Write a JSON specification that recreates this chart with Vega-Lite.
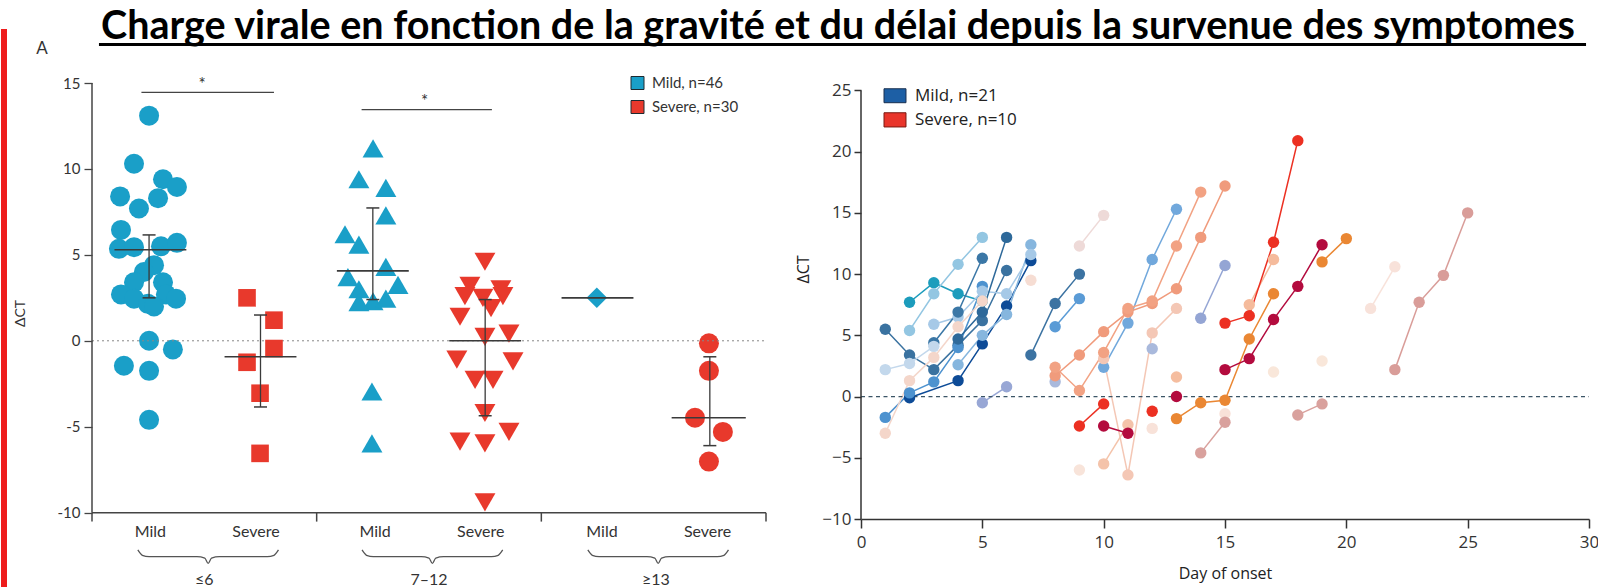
{
"$schema":"https://vega.github.io/schema/vega-lite/v6.json",
"background":"white",
"padding":{"left":0,"top":7,"right":0,"bottom":0},
"bounds":"flush",
"spacing":95,
"resolve":{"scale":{"color":"independent"},"legend":{"color":"independent"}},
"config":{"view":{"stroke":null},"axis":{"grid":false},"locale":{"number":{"decimal":".","thousands":",","grouping":[3],"currency":["$",""],"minus":"-"}}},
"datasets":{
"pts":[
{"g":"≤6","s":"Mild","p":0.254,"v":13.1},{"g":"≤6","s":"Mild","p":0.187,"v":10.3},{"g":"≤6","s":"Mild","p":0.316,"v":9.4},{"g":"≤6","s":"Mild","p":0.378,"v":8.95},{"g":"≤6","s":"Mild","p":0.125,"v":8.4},{"g":"≤6","s":"Mild","p":0.294,"v":8.3},{"g":"≤6","s":"Mild","p":0.209,"v":7.7},{"g":"≤6","s":"Mild","p":0.129,"v":6.45},{"g":"≤6","s":"Mild","p":0.120,"v":5.35},{"g":"≤6","s":"Mild","p":0.187,"v":5.45},{"g":"≤6","s":"Mild","p":0.307,"v":5.5},{"g":"≤6","s":"Mild","p":0.378,"v":5.7},{"g":"≤6","s":"Mild","p":0.276,"v":4.4},{"g":"≤6","s":"Mild","p":0.231,"v":4.0},{"g":"≤6","s":"Mild","p":0.187,"v":3.4},{"g":"≤6","s":"Mild","p":0.316,"v":3.4},{"g":"≤6","s":"Mild","p":0.129,"v":2.7},{"g":"≤6","s":"Mild","p":0.187,"v":2.45},{"g":"≤6","s":"Mild","p":0.249,"v":2.15},{"g":"≤6","s":"Mild","p":0.329,"v":2.7},{"g":"≤6","s":"Mild","p":0.374,"v":2.45},{"g":"≤6","s":"Mild","p":0.276,"v":2.0},{"g":"≤6","s":"Mild","p":0.254,"v":0.0},{"g":"≤6","s":"Mild","p":0.360,"v":-0.5},{"g":"≤6","s":"Mild","p":0.142,"v":-1.45},{"g":"≤6","s":"Mild","p":0.254,"v":-1.75},{"g":"≤6","s":"Mild","p":0.254,"v":-4.6},
{"g":"≤6","s":"Severe","p":0.690,"v":2.5},{"g":"≤6","s":"Severe","p":0.810,"v":1.2},{"g":"≤6","s":"Severe","p":0.810,"v":-0.45},{"g":"≤6","s":"Severe","p":0.690,"v":-1.25},{"g":"≤6","s":"Severe","p":0.748,"v":-3.05},{"g":"≤6","s":"Severe","p":0.748,"v":-6.55},
{"g":"7–12","s":"Mild","p":1.251,"v":11.2},{"g":"7–12","s":"Mild","p":1.188,"v":9.4},{"g":"7–12","s":"Mild","p":1.308,"v":8.9},{"g":"7–12","s":"Mild","p":1.308,"v":7.3},{"g":"7–12","s":"Mild","p":1.126,"v":6.2},{"g":"7–12","s":"Mild","p":1.188,"v":5.6},{"g":"7–12","s":"Mild","p":1.308,"v":4.3},{"g":"7–12","s":"Mild","p":1.139,"v":3.7},{"g":"7–12","s":"Mild","p":1.188,"v":3.0},{"g":"7–12","s":"Mild","p":1.362,"v":3.25},{"g":"7–12","s":"Mild","p":1.251,"v":2.3},{"g":"7–12","s":"Mild","p":1.308,"v":2.45},{"g":"7–12","s":"Mild","p":1.188,"v":2.25},{"g":"7–12","s":"Mild","p":1.246,"v":-2.95},{"g":"7–12","s":"Mild","p":1.246,"v":-5.97},
{"g":"7–12","s":"Severe","p":1.749,"v":4.6},{"g":"7–12","s":"Severe","p":1.682,"v":3.2},{"g":"7–12","s":"Severe","p":1.820,"v":3.0},{"g":"7–12","s":"Severe","p":1.660,"v":2.6},{"g":"7–12","s":"Severe","p":1.740,"v":2.5},{"g":"7–12","s":"Severe","p":1.829,"v":2.6},{"g":"7–12","s":"Severe","p":1.776,"v":1.9},{"g":"7–12","s":"Severe","p":1.638,"v":1.4},{"g":"7–12","s":"Severe","p":1.749,"v":0.23},{"g":"7–12","s":"Severe","p":1.856,"v":0.42},{"g":"7–12","s":"Severe","p":1.624,"v":-1.1},{"g":"7–12","s":"Severe","p":1.874,"v":-1.2},{"g":"7–12","s":"Severe","p":1.705,"v":-2.27},{"g":"7–12","s":"Severe","p":1.785,"v":-2.27},{"g":"7–12","s":"Severe","p":1.749,"v":-4.2},{"g":"7–12","s":"Severe","p":1.856,"v":-5.3},{"g":"7–12","s":"Severe","p":1.638,"v":-5.87},{"g":"7–12","s":"Severe","p":1.749,"v":-5.97},{"g":"7–12","s":"Severe","p":1.749,"v":-9.4},
{"g":"≥13","s":"Mild","p":2.247,"v":2.5},
{"g":"≥13","s":"Severe","p":2.746,"v":-0.15},{"g":"≥13","s":"Severe","p":2.746,"v":-1.75},{"g":"≥13","s":"Severe","p":2.684,"v":-4.48},{"g":"≥13","s":"Severe","p":2.808,"v":-5.3},{"g":"≥13","s":"Severe","p":2.746,"v":-7.03}
],
"stats":[
{"g":"≤6","s":"Mild","x":0.254,"med":5.3,"lo":2.5,"hi":6.16,"xa":0.10,"xb":0.42},
{"g":"≤6","s":"Severe","x":0.75,"med":-0.93,"lo":-3.85,"hi":1.5,"xa":0.59,"xb":0.91},
{"g":"7–12","s":"Mild","x":1.25,"med":4.07,"lo":2.4,"hi":7.73,"xa":1.09,"xb":1.41},
{"g":"7–12","s":"Severe","x":1.75,"med":0.0,"lo":-4.36,"hi":2.4,"xa":1.59,"xb":1.91},
{"g":"≥13","s":"Mild","x":2.25,"med":2.5,"lo":null,"hi":null,"xa":2.09,"xb":2.41},
{"g":"≥13","s":"Severe","x":2.75,"med":-4.48,"lo":-6.1,"hi":-0.93,"xa":2.58,"xb":2.91}
],
"sig":[{"xa":0.22,"xb":0.81,"y":14.46,"xm":0.49,"ys":14.6},{"xa":1.2,"xb":1.78,"y":13.45,"xm":1.48,"ys":13.6}],
"cats":[{"x":0.26,"t":"Mild"},{"x":0.73,"t":"Severe"},{"x":1.26,"t":"Mild"},{"x":1.73,"t":"Severe"},{"x":2.27,"t":"Mild"},{"x":2.74,"t":"Severe"}],
"groups":[{"x":0.5,"t":"≤6"},{"x":1.5,"t":"7–12"},{"x":2.51,"t":"≥13"}],
"braces":[
{"g":1,"x":0.204,"y":-12.17},{"g":1,"x":0.224,"y":-12.48},{"g":1,"x":0.254,"y":-12.56},{"g":1,"x":0.467,"y":-12.56},{"g":1,"x":0.502,"y":-12.64},{"g":1,"x":0.517,"y":-12.95},{"g":1,"x":0.532,"y":-12.64},{"g":1,"x":0.567,"y":-12.56},{"g":1,"x":0.780,"y":-12.56},{"g":1,"x":0.810,"y":-12.48},{"g":1,"x":0.830,"y":-12.17},
{"g":2,"x":1.202,"y":-12.17},{"g":2,"x":1.222,"y":-12.48},{"g":2,"x":1.252,"y":-12.56},{"g":2,"x":1.465,"y":-12.56},{"g":2,"x":1.500,"y":-12.64},{"g":2,"x":1.515,"y":-12.95},{"g":2,"x":1.530,"y":-12.64},{"g":2,"x":1.565,"y":-12.56},{"g":2,"x":1.778,"y":-12.56},{"g":2,"x":1.808,"y":-12.48},{"g":2,"x":1.828,"y":-12.17},
{"g":3,"x":2.207,"y":-12.17},{"g":3,"x":2.227,"y":-12.48},{"g":3,"x":2.257,"y":-12.56},{"g":3,"x":2.470,"y":-12.56},{"g":3,"x":2.505,"y":-12.64},{"g":3,"x":2.520,"y":-12.95},{"g":3,"x":2.535,"y":-12.64},{"g":3,"x":2.570,"y":-12.56},{"g":3,"x":2.783,"y":-12.56},{"g":3,"x":2.813,"y":-12.48},{"g":3,"x":2.833,"y":-12.17}
],
"pat":[
{"id":"B1","d":2,"v":7.7},{"id":"B1","d":3,"v":9.3},{"id":"B1","d":4,"v":8.4},{"id":"B1","d":5,"v":7.8},
{"id":"B2","d":2,"v":5.4},{"id":"B2","d":3,"v":8.4},{"id":"B2","d":4,"v":10.8},{"id":"B2","d":5,"v":13.0},
{"id":"B3","d":1,"v":5.5},{"id":"B3","d":2,"v":3.4},{"id":"B3","d":3,"v":2.2},{"id":"B3","d":4,"v":4.2},{"id":"B3","d":5,"v":6.2},{"id":"B3","d":6,"v":10.3},
{"id":"B4","d":2,"v":-0.1},{"id":"B4","d":4,"v":1.3},{"id":"B4","d":5,"v":4.3},{"id":"B4","d":6,"v":7.4},{"id":"B4","d":7,"v":11.1},
{"id":"B5","d":1,"v":-1.7},{"id":"B5","d":2,"v":0.3},{"id":"B5","d":3,"v":1.2},{"id":"B5","d":4,"v":4.0},{"id":"B5","d":5,"v":9.0},
{"id":"B6","d":4,"v":2.6},{"id":"B6","d":5,"v":5.0},{"id":"B6","d":6,"v":6.7},{"id":"B6","d":7,"v":12.4},
{"id":"B7","d":3,"v":5.9},{"id":"B7","d":4,"v":6.5},{"id":"B7","d":5,"v":8.6},{"id":"B7","d":6,"v":8.4},{"id":"B7","d":7,"v":11.6},
{"id":"B8","d":3,"v":4.4},{"id":"B8","d":4,"v":6.9},{"id":"B8","d":5,"v":11.3},
{"id":"B9","d":4,"v":4.7},{"id":"B9","d":5,"v":6.9},{"id":"B9","d":6,"v":13.0},
{"id":"B10","d":1,"v":2.2},{"id":"B10","d":2,"v":2.7},{"id":"B10","d":3,"v":4.1},
{"id":"B11","d":5,"v":-0.5},{"id":"B11","d":6,"v":0.8},
{"id":"B12","d":7,"v":3.4},{"id":"B12","d":8,"v":7.6},{"id":"B12","d":9,"v":10.0},
{"id":"B13","d":8,"v":5.7},{"id":"B13","d":9,"v":8.0},
{"id":"B14","d":10,"v":2.4},{"id":"B14","d":11,"v":6.0},{"id":"B14","d":12,"v":11.2},{"id":"B14","d":13,"v":15.3},
{"id":"B15","d":14,"v":6.4},{"id":"B15","d":15,"v":10.7},
{"id":"B16","d":8,"v":1.2},
{"id":"B17","d":12,"v":3.9},
{"id":"R8","d":1,"v":-3.0},{"id":"R8","d":2,"v":1.3},{"id":"R8","d":3,"v":3.2},{"id":"R8","d":4,"v":5.7},{"id":"R8","d":5,"v":7.8},
{"id":"R26","d":7,"v":9.5},
{"id":"R9","d":9,"v":12.3},{"id":"R9","d":10,"v":14.8},
{"id":"R14","d":9,"v":-6.0},
{"id":"R16","d":12,"v":-2.6},
{"id":"R20","d":15,"v":-1.4},
{"id":"R21","d":17,"v":2.0},
{"id":"R22","d":19,"v":2.9},
{"id":"R24","d":21,"v":7.2},{"id":"R24","d":22,"v":10.6},
{"id":"R10","d":10,"v":3.1},{"id":"R10","d":11,"v":-6.4},{"id":"R10","d":12,"v":5.2},{"id":"R10","d":13,"v":7.2},
{"id":"R13","d":10,"v":-5.5},{"id":"R13","d":11,"v":-2.3},
{"id":"R18","d":13,"v":1.6},
{"id":"R7","d":16,"v":7.5},{"id":"R7","d":17,"v":11.2},
{"id":"R5","d":8,"v":1.7},{"id":"R5","d":9,"v":3.4},{"id":"R5","d":10,"v":5.3},{"id":"R5","d":11,"v":6.9},{"id":"R5","d":12,"v":7.6},{"id":"R5","d":13,"v":8.8},{"id":"R5","d":14,"v":13.0},{"id":"R5","d":15,"v":17.2},
{"id":"R6","d":8,"v":2.4},{"id":"R6","d":9,"v":0.5},{"id":"R6","d":10,"v":3.6},{"id":"R6","d":11,"v":7.2},{"id":"R6","d":12,"v":7.8},{"id":"R6","d":13,"v":12.3},{"id":"R6","d":14,"v":16.7},
{"id":"R19","d":14,"v":-4.6},{"id":"R19","d":15,"v":-2.1},
{"id":"R23","d":18,"v":-1.5},{"id":"R23","d":19,"v":-0.6},
{"id":"R25","d":22,"v":2.2},{"id":"R25","d":23,"v":7.7},{"id":"R25","d":24,"v":9.9},{"id":"R25","d":25,"v":15.0},
{"id":"R3","d":13,"v":-1.8},{"id":"R3","d":14,"v":-0.5},{"id":"R3","d":15,"v":-0.3},{"id":"R3","d":16,"v":4.7},{"id":"R3","d":17,"v":8.4},
{"id":"R4","d":19,"v":11.0},{"id":"R4","d":20,"v":12.9},
{"id":"R1","d":15,"v":6.0},{"id":"R1","d":16,"v":6.6},{"id":"R1","d":17,"v":12.6},{"id":"R1","d":18,"v":20.9},
{"id":"R11","d":9,"v":-2.4},{"id":"R11","d":10,"v":-0.6},
{"id":"R15","d":12,"v":-1.2},
{"id":"R2","d":15,"v":2.2},{"id":"R2","d":16,"v":3.1},{"id":"R2","d":17,"v":6.3},{"id":"R2","d":18,"v":9.0},{"id":"R2","d":19,"v":12.4},
{"id":"R12","d":10,"v":-2.4},{"id":"R12","d":11,"v":-3.0},
{"id":"R17","d":13,"v":0.0}
]
},
"hconcat":[
{
"width":674,"height":507,
"layer":[
{"data":{"name":"pts"},"transform":[{"filter":"(datum.g=='≤6' && datum.s=='Mild') || (datum.g=='≥13' && datum.s=='Severe')"}],
 "mark":{"type":"point","shape":"circle","filled":true,"opacity":1,"size":400},
 "encoding":{"x":{"field":"p","type":"quantitative","scale":{"domain":[0,3],"nice":false,"zero":false},"axis":null},
  "y":{"field":"v","type":"quantitative","scale":{"domain":[-14.5,15],"nice":false,"zero":false},
   "axis":{"values":[-10,-5,0,5,10,15],"domain":false,"tickSize":8,"tickColor":"#444","tickWidth":1.3,"labelFont":"Lato","labelFontSize":15,"labelColor":"#333","labelPadding":4,"labelFlush":false,"title":"ΔCT","titleFont":"Lato","titleFontSize":14,"titleFontWeight":"normal","titleColor":"#333","titlePadding":30,"titleY":230}},
  "color":{"field":"s","type":"nominal","scale":{"domain":["Mild","Severe"],"range":["#1a9fc8","#e8392c"]},
   "legend":{"orient":"none","legendX":538,"legendY":-7.5,"title":null,"symbolType":"square","symbolSize":169,"symbolStrokeColor":"#1e2a30","symbolStrokeWidth":1,"labelFont":"Lato","labelFontSize":15,"labelColor":"#333","labelOffset":7,"rowPadding":7,"padding":0,"labelExpr":"datum.label=='Mild' ? 'Mild, n=46' : 'Severe, n=30'"}}}},
{"data":{"values":[{}]},"mark":{"type":"rule","color":"#888","strokeWidth":1,"strokeDash":[2,3]},
 "encoding":{"x":{"datum":0,"type":"quantitative","axis":null},"x2":{"datum":3},"y":{"datum":0,"type":"quantitative"}}},
{"data":{"values":[{}]},"mark":{"type":"rule","color":"#444","strokeWidth":1.5},"encoding":{"x":{"datum":0,"type":"quantitative","axis":null},"y":{"datum":-10,"type":"quantitative"},"y2":{"datum":15}}},
{"data":{"values":[{}]},"mark":{"type":"rule","color":"#444","strokeWidth":1.5},"encoding":{"x":{"datum":0,"type":"quantitative","axis":null},"x2":{"datum":3},"y":{"datum":-10,"type":"quantitative"}}},
{"data":{"values":[{"b":0},{"b":1},{"b":2},{"b":3}]},"mark":{"type":"rule","color":"#444","strokeWidth":1.5},"encoding":{"x":{"field":"b","type":"quantitative","axis":null},"y":{"datum":-10,"type":"quantitative"},"y2":{"datum":-10.52}}},
{"data":{"name":"pts"},"transform":[{"filter":"datum.g=='≤6' && datum.s=='Severe'"}],
 "mark":{"type":"point","shape":"square","filled":true,"opacity":1,"size":310},
 "encoding":{"x":{"field":"p","type":"quantitative","axis":null},"y":{"field":"v","type":"quantitative"},"color":{"field":"s","type":"nominal","legend":null}}},
{"data":{"name":"pts"},"transform":[{"filter":"datum.g=='7–12' && datum.s=='Mild'"}],
 "mark":{"type":"point","shape":"triangle-up","filled":true,"opacity":1,"size":440},
 "encoding":{"x":{"field":"p","type":"quantitative","axis":null},"y":{"field":"v","type":"quantitative"},"color":{"field":"s","type":"nominal","legend":null}}},
{"data":{"name":"pts"},"transform":[{"filter":"datum.g=='7–12' && datum.s=='Severe'"}],
 "mark":{"type":"point","shape":"triangle-down","filled":true,"opacity":1,"size":440},
 "encoding":{"x":{"field":"p","type":"quantitative","axis":null},"y":{"field":"v","type":"quantitative"},"color":{"field":"s","type":"nominal","legend":null}}},
{"data":{"name":"pts"},"transform":[{"filter":"datum.g=='≥13' && datum.s=='Mild'"}],
 "mark":{"type":"point","shape":"diamond","filled":true,"opacity":1,"size":420},
 "encoding":{"x":{"field":"p","type":"quantitative","axis":null},"y":{"field":"v","type":"quantitative"},"color":{"field":"s","type":"nominal","legend":null}}},
{"data":{"name":"stats"},"mark":{"type":"rule","color":"#3a3a3a","strokeWidth":1.6},"encoding":{"x":{"field":"xa","type":"quantitative","axis":null},"x2":{"field":"xb"},"y":{"field":"med","type":"quantitative"}}},
{"data":{"name":"stats"},"mark":{"type":"rule","color":"#3a3a3a","strokeWidth":1.3},"encoding":{"x":{"field":"x","type":"quantitative","axis":null},"y":{"field":"lo","type":"quantitative"},"y2":{"field":"hi"}}},
{"data":{"name":"stats"},"mark":{"type":"tick","orient":"horizontal","size":13,"thickness":1.5,"color":"#3a3a3a","opacity":1},"encoding":{"x":{"field":"x","type":"quantitative","axis":null},"y":{"field":"lo","type":"quantitative"}}},
{"data":{"name":"stats"},"mark":{"type":"tick","orient":"horizontal","size":13,"thickness":1.5,"color":"#3a3a3a","opacity":1},"encoding":{"x":{"field":"x","type":"quantitative","axis":null},"y":{"field":"hi","type":"quantitative"}}},
{"data":{"name":"sig"},"mark":{"type":"rule","color":"#444","strokeWidth":1.3},"encoding":{"x":{"field":"xa","type":"quantitative","axis":null},"x2":{"field":"xb"},"y":{"field":"y","type":"quantitative"}}},
{"data":{"name":"sig"},"mark":{"type":"text","text":"*","fontSize":17,"font":"Lato","color":"#333","baseline":"alphabetic"},"encoding":{"x":{"field":"xm","type":"quantitative","axis":null},"y":{"field":"ys","type":"quantitative"}}},
{"data":{"name":"cats"},"mark":{"type":"text","fontSize":16,"font":"Lato","color":"#333","baseline":"middle"},"encoding":{"x":{"field":"x","type":"quantitative","axis":null},"y":{"datum":-11.1,"type":"quantitative"},"text":{"field":"t"}}},
{"data":{"name":"braces"},"mark":{"type":"line","color":"#555","strokeWidth":1.3,"interpolate":"monotone"},"encoding":{"x":{"field":"x","type":"quantitative","axis":null},"y":{"field":"y","type":"quantitative"},"detail":{"field":"g"}}},
{"data":{"name":"groups"},"mark":{"type":"text","fontSize":16,"font":"Lato","color":"#333","baseline":"middle"},"encoding":{"x":{"field":"x","type":"quantitative","axis":null},"y":{"datum":-13.9,"type":"quantitative"},"text":{"field":"t"}}},
{"data":{"values":[{}]},"mark":{"type":"text","text":"A","fontSize":17,"font":"Lato","color":"#333","baseline":"middle"},"encoding":{"x":{"datum":-0.223,"type":"quantitative","axis":null},"y":{"datum":16.98,"type":"quantitative"}}},
{"data":{"values":[{}]},"mark":{"type":"text","text":"Charge virale en fonction de la gravité et du délai depuis la survenue des symptomes","fontSize":39.5,"fontWeight":"bold","font":"Lato","color":"#000","align":"center","baseline":"alphabetic"},"encoding":{"x":{"datum":3.32,"type":"quantitative","axis":null},"y":{"datum":17.56,"type":"quantitative"}}},
{"data":{"values":[{}]},"mark":{"type":"rule","color":"#000","strokeWidth":3},"encoding":{"x":{"datum":0.031,"type":"quantitative","axis":null},"x2":{"datum":6.65},"y":{"datum":17.24,"type":"quantitative"}}},
{"data":{"values":[{}]},"mark":{"type":"rule","color":"#ee1c1c","strokeWidth":6},"encoding":{"x":{"datum":-0.3917,"type":"quantitative","axis":null},"y":{"datum":18.14,"type":"quantitative"},"y2":{"datum":-14.5}}}
]
},
{
"width":728,"height":436,
"layer":[
{"data":{"name":"pat"},"mark":{"type":"line","strokeWidth":1.5},
 "encoding":{"x":{"field":"d","type":"quantitative","scale":{"domain":[0,30],"nice":false,"zero":false},
   "axis":{"values":[0,5,10,15,20,25,30],"domainColor":"#333","domainWidth":1.5,"tickColor":"#333","tickWidth":1.5,"tickSize":9,"labelFont":"Open Sans","labelFontSize":17,"labelColor":"#333","labelPadding":6,"labelFlush":false,"title":"Day of onset","titleFont":"Open Sans","titleFontSize":16,"titleFontWeight":"normal","titleColor":"#222","titlePadding":15}},
  "y":{"field":"v","type":"quantitative","scale":{"domain":[-10,25.61],"nice":false,"zero":false},
   "axis":{"values":[-10,-5,0,5,10,15,20,25],"domain":false,"tickColor":"#333","tickWidth":1.5,"tickSize":7,"labelFont":"Open Sans","labelFontSize":17,"labelColor":"#333","labelPadding":3,"labelFlush":false,"labelExpr":"replace(datum.label,'-','−')","title":"ΔCT","titleFont":"Open Sans","titleFontSize":16,"titleFontWeight":"normal","titleColor":"#222","titlePadding":10,"titleY":186}},
  "color":{"field":"id","type":"nominal","legend":null,
   "scale":{"domain":["B1","B2","B3","B4","B5","B6","B7","B8","B9","B10","B11","B12","B13","B14","B15","B16","B17","R1","R2","R3","R4","R5","R6","R7","R8","R9","R10","R11","R12","R13","R14","R15","R16","R17","R18","R19","R20","R21","R22","R23","R24","R25","R26"],
    "range":["#1c9cbc","#93c6e2","#3a72a0","#0d4b97","#4d92cf","#86b6de","#a6c9e7","#3b77a6","#2e699a","#c3d8ec","#98a7d5","#3c73a2","#5a9bd6","#71a8dc","#94a5d4","#a9b9dc","#a9b9dc","#ec3022","#b30b3e","#ea8733","#ea8733","#f09b7c","#f2a283","#f5bb9c","#f4d6ca","#eedad8","#f4c7b5","#ec3022","#b30b3e","#f4c3aa","#f8e4da","#ec3022","#f8e2d9","#b30b3e","#f5bd9f","#d9a19d","#f8e1d8","#f9e7da","#f9e7da","#d9a19d","#f8e2da","#d99d99","#f6ddd3"]}},
  "order":{"field":"d"}}},
{"data":{"values":[{}]},"mark":{"type":"rule","color":"#3b5566","strokeWidth":1.2,"strokeDash":[4,3.5]},
 "encoding":{"x":{"datum":0,"type":"quantitative"},"x2":{"datum":30},"y":{"datum":0,"type":"quantitative"}}},
{"data":{"values":[{}]},"mark":{"type":"rule","color":"#333","strokeWidth":1.5},"encoding":{"x":{"datum":0,"type":"quantitative"},"y":{"datum":-10,"type":"quantitative"},"y2":{"datum":25}}},
{"data":{"name":"pat"},"mark":{"type":"circle","size":130,"opacity":1},
 "encoding":{"x":{"field":"d","type":"quantitative"},"y":{"field":"v","type":"quantitative"},"color":{"field":"id","type":"nominal","legend":null}}},
{"data":{"values":[{}]},"mark":{"type":"rect","fill":"#1d5fa5","stroke":"#1a3050","strokeWidth":1},"encoding":{"x":{"datum":0.948,"type":"quantitative"},"x2":{"datum":1.854},"y":{"datum":25.14,"type":"quantitative"},"y2":{"datum":24.0}}},
{"data":{"values":[{}]},"mark":{"type":"rect","fill":"#e9352b","stroke":"#7a1a12","strokeWidth":1},"encoding":{"x":{"datum":0.948,"type":"quantitative"},"x2":{"datum":1.854},"y":{"datum":23.18,"type":"quantitative"},"y2":{"datum":22.02}}},
{"data":{"values":[{}]},"mark":{"type":"text","text":"Mild, n=21","font":"Open Sans","fontSize":17,"color":"#222","align":"left","baseline":"middle"},"encoding":{"x":{"datum":2.225,"type":"quantitative"},"y":{"datum":24.57,"type":"quantitative"}}},
{"data":{"values":[{}]},"mark":{"type":"text","text":"Severe, n=10","font":"Open Sans","fontSize":17,"color":"#222","align":"left","baseline":"middle"},"encoding":{"x":{"datum":2.225,"type":"quantitative"},"y":{"datum":22.59,"type":"quantitative"}}}
]
}
]
}
